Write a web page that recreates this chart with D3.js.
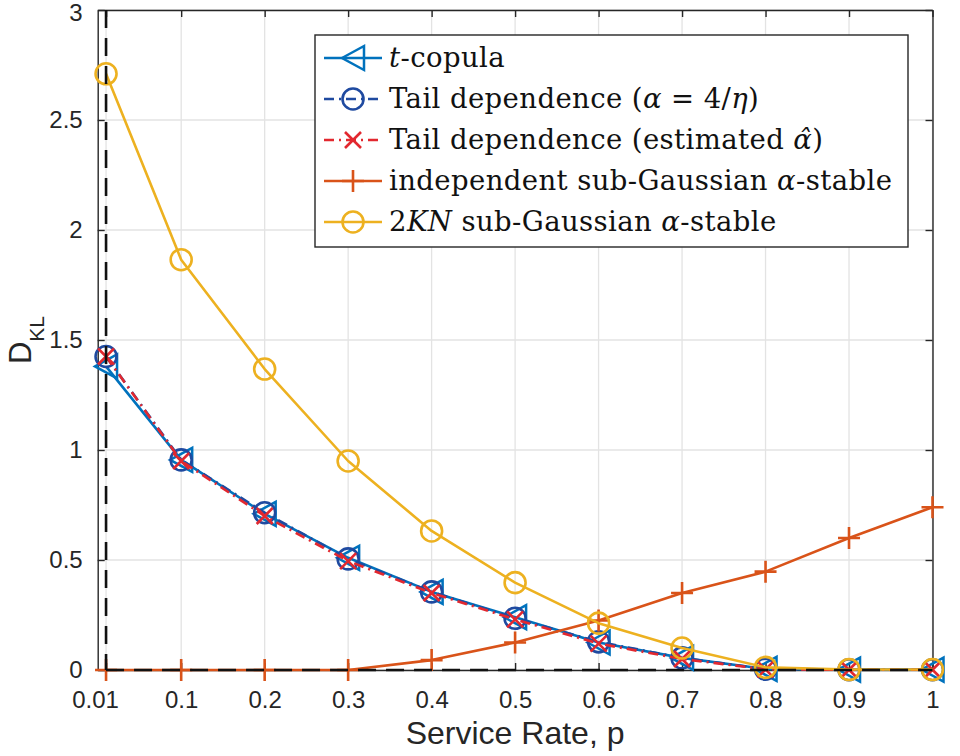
<!DOCTYPE html>
<html>
<head>
<meta charset="utf-8">
<script src="https://cdn.jsdelivr.net/npm/d3@7"></script>
<style>
  html, body { margin: 0; padding: 0; background: #fff; }
  svg { display: block; }
</style>
</head>
<body>
<svg id="chart" width="960" height="756"></svg>
<script>
// ---------------- data ----------------
const xValues = [0.01, 0.1, 0.2, 0.3, 0.4, 0.5, 0.6, 0.7, 0.8, 0.9, 1];
const tCopula = [1.38, 0.955, 0.71, 0.51, 0.355, 0.24, 0.125, 0.055, 0.005, 0.002, 0.002];
const tailEta = [1.425, 0.955, 0.715, 0.505, 0.355, 0.235, 0.128, 0.055, 0.004, 0.001, 0.001];
const tailEst = [1.425, 0.95, 0.70, 0.495, 0.35, 0.23, 0.12, 0.05, 0.003, 0.001, 0.001];
const independent = [0, 0, 0, 0, 0.045, 0.125, 0.225, 0.35, 0.447, 0.6, 0.74];
const twoKN = [2.71, 1.865, 1.368, 0.95, 0.632, 0.397, 0.213, 0.10, 0.012, 0.002, 0.002];

const xTicks = [0.01, 0.1, 0.2, 0.3, 0.4, 0.5, 0.6, 0.7, 0.8, 0.9, 1];
const xTickLabels = ["0.01", "0.1", "0.2", "0.3", "0.4", "0.5", "0.6", "0.7", "0.8", "0.9", "1"];
const yTicks = [0, 0.5, 1, 1.5, 2, 2.5, 3];
const yTickLabels = ["0", "0.5", "1", "1.5", "2", "2.5", "3"];
const refX = 0.01;   // vertical dashed reference
const refY = 0;      // horizontal dashed reference

// ---------------- layout ----------------
const L = 97.7, R = 932.5, T = 10, B = 670;
const svg = d3.select("#chart");
const x = d3.scaleLinear().domain([0, 1]).range([L, R]);
const y = d3.scaleLinear().domain([0, 3]).range([B, T]);

const axisColor = "#262626";
const sans = "'Liberation Sans', Arial, Helvetica, sans-serif";
const serif = "'DejaVu Serif', 'Liberation Serif', serif";

// grid
const grid = svg.append("g");
grid.selectAll("line.gx").data(xTicks).join("line")
  .attr("x1", d => x(d)).attr("x2", d => x(d)).attr("y1", T).attr("y2", B)
  .attr("stroke", "#e3e3e3").attr("stroke-width", 1.3);
grid.selectAll("line.gy").data(yTicks).join("line")
  .attr("x1", L).attr("x2", R).attr("y1", d => y(d)).attr("y2", d => y(d))
  .attr("stroke", "#e3e3e3").attr("stroke-width", 1.3);

// axes
function styleAxis(g) {
  g.selectAll("path.domain").attr("stroke", axisColor).attr("stroke-width", 1.4);
  g.selectAll(".tick line").attr("stroke", axisColor).attr("stroke-width", 1.4);
  g.selectAll(".tick text").attr("fill", "#262626").attr("font-family", sans).attr("font-size", 24);
}
const xAxis = svg.append("g").attr("transform", `translate(0,${B})`)
  .call(d3.axisBottom(x).tickValues(xTicks).tickSize(-7).tickSizeOuter(0).tickPadding(21)
    .tickFormat((d, i) => xTickLabels[i]));
styleAxis(xAxis);
xAxis.selectAll(".tick text").attr("dx", (d, i) => i === 0 ? -11 : 0);

svg.append("g").attr("transform", `translate(0,${T})`)
  .call(d3.axisTop(x).tickValues(xTicks).tickSize(-7).tickSizeOuter(0).tickFormat(""))
  .call(styleAxis);

const yAxis = svg.append("g").attr("transform", `translate(${L},0)`)
  .call(d3.axisLeft(y).tickValues(yTicks).tickSize(-7).tickSizeOuter(0).tickPadding(15)
    .tickFormat((d, i) => yTickLabels[i]));
styleAxis(yAxis);
yAxis.selectAll(".tick text").attr("dy", (d, i) => i === yTicks.length - 1 ? "0.42em" : "0.32em");

svg.append("g").attr("transform", `translate(${R},0)`)
  .call(d3.axisRight(y).tickValues(yTicks).tickSize(-7).tickSizeOuter(0).tickFormat(""))
  .call(styleAxis);

// axis labels
svg.append("text").attr("x", (L + R) / 2).attr("y", 744)
  .attr("text-anchor", "middle").attr("font-family", sans).attr("font-size", 32)
  .attr("fill", "#262626").text("Service Rate, p");

const yl = svg.append("text").attr("transform", `translate(31,${(T + B) / 2}) rotate(-90)`)
  .attr("text-anchor", "middle").attr("font-family", sans).attr("font-size", 31)
  .attr("fill", "#262626");
yl.append("tspan").text("D");
yl.append("tspan").attr("font-size", 21).attr("dy", 13).text("KL");

// ---------------- series ----------------
const series = [
  { name: "tcop", values: tCopula, color: "#0072BD", dash: null, marker: "tri" },
  { name: "eta", values: tailEta, color: "#1f4aa0", dash: "10,5,2,5", marker: "circ" },
  { name: "est", values: tailEst, color: "#e2282f", dash: "10,5,2,5", marker: "x" },
  { name: "ind", values: independent, color: "#D95319", dash: null, marker: "plus" },
  { name: "kn", values: twoKN, color: "#EDB120", dash: null, marker: "circ" }
];

function drawMarker(g, type, cx, cy, color, scale) {
  const s = scale || 1;
  if (type === "tri") {
    const w = 22 * s, h = 24 * s;
    g.append("path")
      .attr("d", `M${cx - w / 2},${cy} L${cx + w / 2},${cy - h / 2} L${cx + w / 2},${cy + h / 2} Z`)
      .attr("fill", "none").attr("stroke", color).attr("stroke-width", 2.5).attr("stroke-linejoin", "miter");
  } else if (type === "circ") {
    g.append("circle").attr("cx", cx).attr("cy", cy).attr("r", 10.5 * s)
      .attr("fill", "none").attr("stroke", color).attr("stroke-width", 2.6);
  } else if (type === "x") {
    const a = 8 * s;
    g.append("path").attr("d", `M${cx - a},${cy - a} L${cx + a},${cy + a} M${cx - a},${cy + a} L${cx + a},${cy - a}`)
      .attr("stroke", color).attr("stroke-width", 2.6).attr("fill", "none");
  } else if (type === "plus") {
    const a = 11 * s;
    g.append("path").attr("d", `M${cx - a},${cy} L${cx + a},${cy} M${cx},${cy - a} L${cx},${cy + a}`)
      .attr("stroke", color).attr("stroke-width", 2.6).attr("fill", "none");
  }
}

const line = d3.line().x(d => x(d[0])).y(d => y(d[1]));
const plotG = svg.append("g");
series.forEach(s => {
  const pts = xValues.map((xv, i) => [xv, s.values[i]]);
  const g = plotG.append("g");
  g.append("path").datum(pts).attr("d", line)
    .attr("fill", "none").attr("stroke", s.color).attr("stroke-width", 2.6)
    .attr("stroke-dasharray", s.dash).attr("stroke-linejoin", "round");
  pts.forEach(p => drawMarker(g, s.marker, x(p[0]), y(p[1]), s.color));
});

// black dashed reference lines (drawn on top)
svg.append("line").attr("x1", x(refX)).attr("x2", x(refX)).attr("y1", y(3)).attr("y2", y(0))
  .attr("stroke", "#111").attr("stroke-width", 2.6).attr("stroke-dasharray", "18,10");
svg.append("line").attr("x1", x(refX)).attr("x2", x(1)).attr("y1", y(refY)).attr("y2", y(refY))
  .attr("stroke", "#111").attr("stroke-width", 2.6).attr("stroke-dasharray", "18,10");

// ---------------- legend ----------------
const lg = svg.append("g");
lg.append("rect").attr("x", 315).attr("y", 35).attr("width", 593).attr("height", 212)
  .attr("fill", "#fff").attr("stroke", axisColor).attr("stroke-width", 1.4);

const legendRows = [
  { s: series[0], parts: [["t", true], ["-copula", false]] },
  { s: series[1], parts: [["Tail dependence (", false], ["α", true], [" = 4/", false], ["η", true], [")", false]] },
  { s: series[2], parts: [["Tail dependence (estimated ", false], ["α̂", true], [")", false]] },
  { s: series[3], parts: [["independent sub-Gaussian ", false], ["α", true], ["-stable", false]] },
  { s: series[4], parts: [["2", false], ["KN", true], [" sub-Gaussian ", false], ["α", true], ["-stable", false]] }
];
legendRows.forEach((row, i) => {
  const cy = 58 + i * 41;
  const g = lg.append("g");
  g.append("line").attr("x1", 324).attr("x2", 382).attr("y1", cy).attr("y2", cy)
    .attr("stroke", row.s.color).attr("stroke-width", 2.6).attr("stroke-dasharray", row.s.dash);
  drawMarker(g, row.s.marker, 353, cy, row.s.color, 1);
  const t = g.append("text").attr("x", 389).attr("y", cy + 9)
    .attr("font-family", serif).attr("font-size", 27.5).attr("letter-spacing", 0.4)
    .attr("fill", "#111");
  row.parts.forEach(p => {
    t.append("tspan").attr("font-style", p[1] ? "italic" : "normal").text(p[0]);
  });
});
</script>
</body>
</html>
